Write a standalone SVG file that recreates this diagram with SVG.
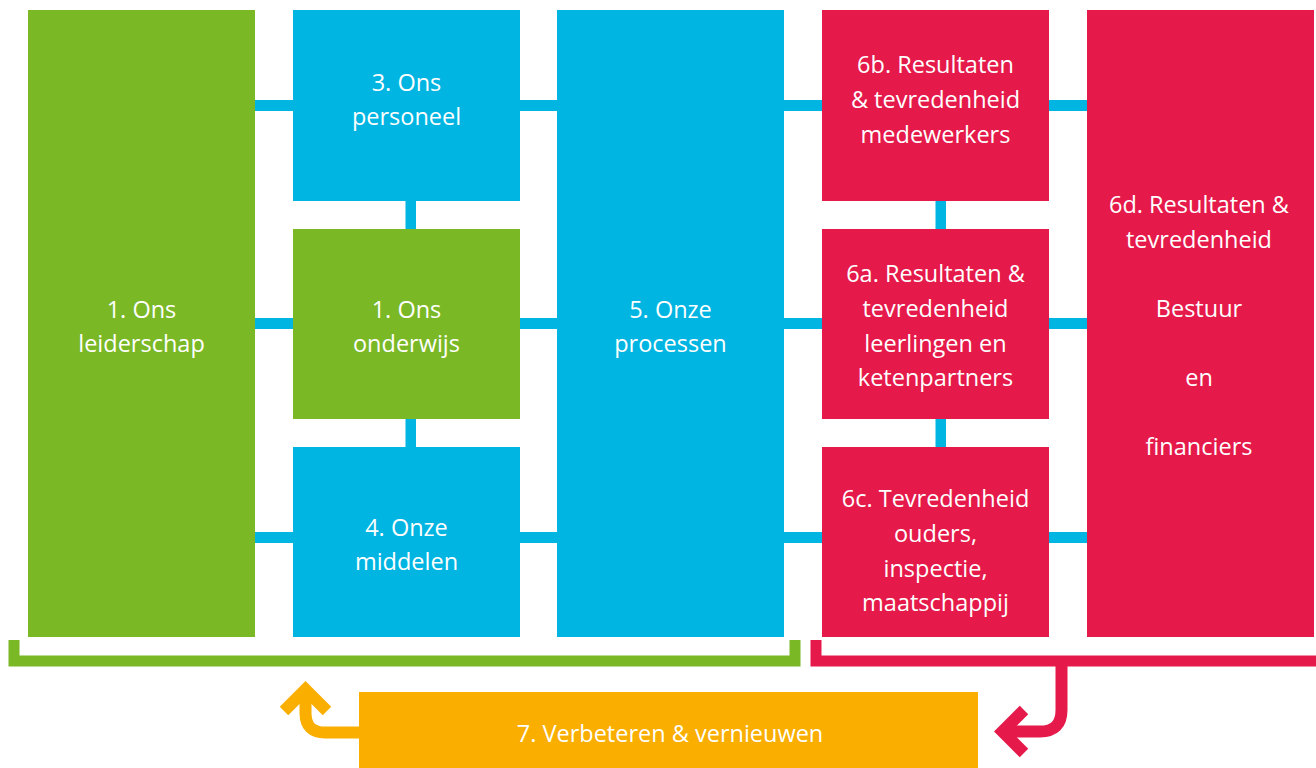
<svg xmlns="http://www.w3.org/2000/svg" width="1316" height="768" viewBox="0 0 1316 768">
<style>
.g{fill:#7AB826}.b{fill:#00B5E2}.r{fill:#E5194A}.o{fill:#F9AE00}
text{font-family:"Open Sans","Noto Sans","Liberation Sans",sans-serif;font-size:23.5px;fill:#fff;text-anchor:middle}
.c{fill:#00B5E2}
</style>
<rect width="1316" height="768" fill="#fff"/>
<g id="connectors">
<rect class="c" x="255" y="100" width="38" height="11"/>
<rect class="c" x="520" y="100" width="37" height="11"/>
<rect class="c" x="784" y="100" width="38" height="11"/>
<rect class="c" x="1049" y="100" width="38" height="11"/>
<rect class="c" x="255" y="318" width="38" height="11"/>
<rect class="c" x="520" y="318" width="37" height="11"/>
<rect class="c" x="784" y="318" width="38" height="11"/>
<rect class="c" x="1049" y="318" width="38" height="11"/>
<rect class="c" x="255" y="532" width="38" height="11"/>
<rect class="c" x="520" y="532" width="37" height="11"/>
<rect class="c" x="784" y="532" width="38" height="11"/>
<rect class="c" x="1049" y="532" width="38" height="11"/>
<rect class="c" x="405.5" y="201" width="10.5" height="28"/>
<rect class="c" x="405.5" y="419" width="10.5" height="28"/>
<rect class="c" x="935.5" y="201" width="10.5" height="28"/>
<rect class="c" x="935.5" y="419" width="10.5" height="28"/>
<path d="M14 640 V661 H795 V640" fill="none" stroke="#7AB826" stroke-width="11"/>
<path d="M816 640 V661 H1316" fill="none" stroke="#E5194A" stroke-width="11"/>
<path d="M1061.5 661 V710 Q1061.5 731.5 1040 731.5 H1004" fill="none" stroke="#E5194A" stroke-width="12"/>
<path d="M1024 710 L1002.5 731.5 L1024 753" fill="none" stroke="#E5194A" stroke-width="12"/>
<path d="M362 732.5 H325 Q305.5 732.5 305.5 713 V690" fill="none" stroke="#F9AE00" stroke-width="12"/>
<path d="M284 711 L305.5 689.5 L327 711" fill="none" stroke="#F9AE00" stroke-width="12"/>
</g>
<g id="n1"><rect class="g" x="28" y="10" width="227" height="627"/><text x="141.5" y="317.5">1. Ons</text><text x="141.5" y="351.5">leiderschap</text></g>
<g id="n3"><rect class="b" x="293" y="10" width="227" height="191"/><text x="406.5" y="91">3. Ons</text><text x="406.5" y="125">personeel</text></g>
<g id="n2"><rect class="g" x="293" y="229" width="227" height="190"/><text x="406.5" y="317.5">1. Ons</text><text x="406.5" y="351.5">onderwijs</text></g>
<g id="n4"><rect class="b" x="293" y="447" width="227" height="190"/><text x="406.5" y="535.5">4. Onze</text><text x="406.5" y="570">middelen</text></g>
<g id="n5"><rect class="b" x="557" y="10" width="227" height="627"/><text x="670.5" y="317.5">5. Onze</text><text x="670.5" y="351.5">processen</text></g>
<g id="n6b"><rect class="r" x="822" y="10" width="227" height="191"/><text x="935.5" y="73">6b. Resultaten</text><text x="935.5" y="108">&amp; tevredenheid</text><text x="935.5" y="142.5">medewerkers</text></g>
<g id="n6a"><rect class="r" x="822" y="229" width="227" height="190"/><text x="935.5" y="282">6a. Resultaten &amp;</text><text x="935.5" y="317">tevredenheid</text><text x="935.5" y="351.5">leerlingen en</text><text x="935.5" y="386">ketenpartners</text></g>
<g id="n6c"><rect class="r" x="822" y="447" width="227" height="190"/><text x="935.5" y="507">6c. Tevredenheid</text><text x="935.5" y="542">ouders,</text><text x="935.5" y="576.5">inspectie,</text><text x="935.5" y="611">maatschappij</text></g>
<g id="n6d"><rect class="r" x="1087" y="10" width="227" height="627"/><text x="1199" y="213">6d. Resultaten &amp;</text><text x="1199" y="247.5">tevredenheid</text><text x="1199" y="316.5">Bestuur</text><text x="1199" y="386">en</text><text x="1199" y="455">financiers</text></g>
<g id="n7"><rect class="o" x="359" y="692" width="619" height="76"/><text x="670" y="741.5">7. Verbeteren &amp; vernieuwen</text></g>
</svg>
